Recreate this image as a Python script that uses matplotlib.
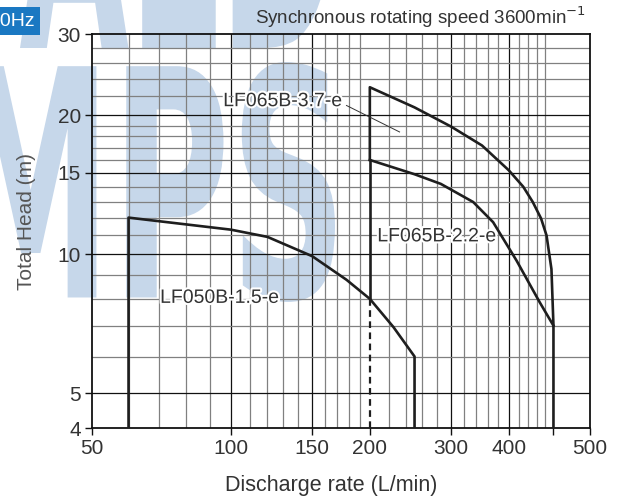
import numpy as np
import matplotlib
matplotlib.use('Agg')
import matplotlib.pyplot as plt
import matplotlib.patheffects as pe
from matplotlib.textpath import TextPath
from matplotlib.patches import PathPatch
from matplotlib.font_manager import FontProperties
from matplotlib.transforms import Affine2D

plt.rcParams['font.family'] = ['Liberation Sans', 'DejaVu Sans']

# pump curves (discharge L/min, head m)
q_050 = [60, 80, 100, 120, 150, 178, 200, 225, 250]
h_050 = [12.0, 11.6, 11.3, 10.9, 9.9, 8.8, 8.0, 6.95, 6.0]

q_37 = [200, 250, 300, 350, 400, 430, 451, 470, 483, 495, 500]
h_37 = [23.0, 20.8, 18.9, 17.2, 15.2, 14.0, 12.97, 11.95, 10.98, 9.28, 7.0]

q_22 = [200, 250, 285, 335, 370, 416, 467, 500]
h_22 = [16.0, 14.9, 14.2, 12.97, 11.73, 9.68, 7.86, 7.0]

labels = ['LF050B-1.5-e', 'LF065B-3.7-e', 'LF065B-2.2-e']

x_ticks = [50, 100, 150, 200, 300, 400, 600]
x_ticklabels = ['50', '100', '150', '200', '300', '400', '500']
y_ticks = [4.2, 5, 10, 15, 20, 30]
y_ticklabels = ['4', '5', '10', '15', '20', '30']

x_grid = list(range(60, 200, 10)) + list(range(200, 501, 20))
y_grid = list(range(5, 21)) + [22, 24, 26, 28]
x_major = [100, 150, 200, 300, 400]
y_major = [5, 10, 15, 20]

txt = '#333333'
line = '#1e1e1e'
wm = '#c6d7ea'

W, H = 619, 500
fig = plt.figure(figsize=(W / 100, H / 100), dpi=100)


def watermark(s, x0, x1, y_top, y_bot):
    # squeeze a text outline into a pixel box (y measured from the top)
    tp = TextPath((0, 0), s, size=100,
                  prop=FontProperties(family='DejaVu Sans', weight='bold'))
    bb = tp.get_extents()
    sx = (x1 - x0) / bb.width
    sy = (y_bot - y_top) / bb.height
    tr = Affine2D().translate(-bb.x0, -bb.y0).scale(sx, sy).translate(x0, H - y_bot)
    fig.patches.append(PathPatch(tr.transform_path(tp), fc=wm, ec='none',
                                 transform=None, figure=fig, zorder=0))


watermark('MPS', -35, 335, 62, 302)
watermark('ALD', 20, 330, -200, 48)

ax = fig.add_axes([92 / W, 1 - 428 / H, 498 / W, 394 / H], zorder=2)
ax.patch.set_alpha(0)
ax.set_xscale('log')
ax.set_yscale('log')
ax.set_xlim(50, 600)
ax.set_ylim(4.2, 30)

for xv in x_grid:
    if xv == 200 or xv == 500:
        continue
    ax.axvline(xv, color='#111' if xv in x_major else '#808080', lw=0.9, zorder=1)
for yv in y_grid:
    ax.axhline(yv, color='#111' if yv in y_major else '#808080', lw=0.9, zorder=1)

# LF050B-1.5-e
ax.plot([q_050[0]] + q_050 + [q_050[-1]], [4.2] + h_050 + [4.2],
        color=line, lw=1.9, zorder=3)
# LF065B-3.7-e / 2.2-e
ax.plot([q_37[0]] + q_37 + [q_37[-1]], [h_22[0]] + h_37 + [4.2],
        color=line, lw=1.9, zorder=3)
ax.plot(q_22, h_22, color=line, lw=1.9, zorder=3)
ax.plot([200, 200], [h_050[q_050.index(200)], h_22[0]], color=line, lw=1.9, zorder=3)
ax.plot([200, 200], [4.2, h_050[q_050.index(200)]], color=line, lw=1.6,
        ls=(0, (3, 2)), zorder=3)

stroke = [pe.withStroke(linewidth=3, foreground='white')]
ax.text(94.6, 8.02, labels[0], fontsize=14, color=txt, ha='center',
        va='center', path_effects=stroke, zorder=4)
ax.text(129.6, 21.4, labels[1], fontsize=14, color=txt, ha='center',
        va='center', path_effects=stroke, zorder=4)
ax.plot([178, 232], [21.0, 18.4], color='#333', lw=0.7, zorder=4)
ax.text(279.6, 10.9, labels[2], fontsize=14, color=txt, ha='center',
        va='center', path_effects=stroke, zorder=4)

for s in ax.spines.values():
    s.set_color('#111')
    s.set_linewidth(1.3)

ax.xaxis.set_minor_locator(matplotlib.ticker.NullLocator())
ax.yaxis.set_minor_locator(matplotlib.ticker.NullLocator())
ax.set_xticks(x_ticks + [500])
ax.set_xticklabels(x_ticklabels + [''])
ax.set_yticks(y_ticks)
ax.set_yticklabels(y_ticklabels)
ax.tick_params(axis='both', direction='out', length=5, width=1,
               labelsize=15, labelcolor=txt, color='#111', pad=3)

fig.text(331 / W, 1 - 486 / H, 'Discharge rate (L/min)', fontsize=15.5,
         color=txt, ha='center', va='center')
fig.text(27 / W, 1 - 222 / H, 'Total Head (m)', fontsize=15, color='#555',
         ha='center', va='center', rotation=90)

fig.text(586 / W, 1 - 17 / H, 'Synchronous rotating speed 3600min$^{-1}$',
         fontsize=13.5, color=txt, ha='right', va='center')
fig.text(-11 / W, 1 - 21 / H, '60Hz', fontsize=14, color='white',
         va='center', bbox=dict(boxstyle='square,pad=0.3', fc='#1a78c2', ec='none'))

fig.savefig('out.png', dpi=100)
